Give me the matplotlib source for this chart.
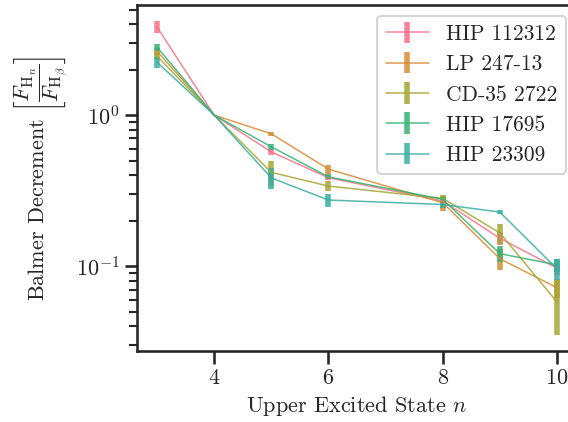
import numpy as np
import matplotlib
matplotlib.use('Agg')
import matplotlib.pyplot as plt
import seaborn as sns

sns.set_theme(context='talk', style='ticks')
plt.rcParams['font.family'] = 'serif'
plt.rcParams['font.serif'] = ['cmr10']
plt.rcParams['mathtext.fontset'] = 'cm'
plt.rcParams['axes.formatter.use_mathtext'] = True
plt.rcParams['axes.unicode_minus'] = True

n = [3, 4, 5, 6, 8, 9, 10]
names = ['HIP 112312', 'LP 247-13', 'CD-35 2722', 'HIP 17695', 'HIP 23309']
colors = ['#f77189', '#d58c32', '#a4a631', '#33b373', '#36ada4']

dec_hip112312 = [3.83, 1.0, 0.571, 0.385, 0.270, 0.153, 0.097]
err_hip112312 = [0.35, 0.0, 0.030, 0.015, 0.010, 0.015, 0.010]
dec_lp24713 = [2.65, 1.0, 0.752, 0.439, 0.263, 0.112, 0.072]
err_lp24713 = [0.15, 0.0, 0.020, 0.030, 0.030, 0.018, 0.010]
dec_cd352722 = [2.46, 1.0, 0.418, 0.339, 0.281, 0.166, 0.058]
err_cd352722 = [0.15, 0.0, 0.080, 0.025, 0.015, 0.025, 0.023]
dec_hip17695 = [2.82, 1.0, 0.617, 0.390, 0.277, 0.121, 0.102]
err_hip17695 = [0.15, 0.0, 0.030, 0.015, 0.012, 0.015, 0.010]
dec_hip23309 = [2.24, 1.0, 0.384, 0.274, 0.256, 0.228, 0.096]
err_hip23309 = [0.18, 0.0, 0.060, 0.027, 0.012, 0.007, 0.015]

decs = [dec_hip112312, dec_lp24713, dec_cd352722, dec_hip17695, dec_hip23309]
errs = [err_hip112312, err_lp24713, err_cd352722, err_hip17695, err_hip23309]

fig = plt.figure(figsize=(5.68, 4.22), dpi=100)
ax = fig.add_axes([0.2412, 0.168, 1.0158 - 0.2412, 0.988 - 0.168])

for name, d, e, c in zip(names, decs, errs, colors):
    ax.errorbar(n, d, yerr=e, color=c, lw=1.1, elinewidth=4, capsize=0,
                alpha=0.85, label=name)

ax.set_yscale('log')
ax.set_xlim(2.65, 10.35)
ax.set_ylim(0.0274, 5.35)
ax.set_xticks([4, 6, 8, 10])
ax.set_xlabel(r'Upper Excited State $n$', fontsize=16)
ax.set_ylabel(r'Balmer Decrement $\left[\dfrac{F_{\mathrm{H}_n}}{F_{\mathrm{H}_\beta}}\right]$',
              fontsize=16)
ax.tick_params(labelsize=16)
ax.legend(loc='upper right', fontsize=15.5)

fig.savefig('out.png', dpi=100)
